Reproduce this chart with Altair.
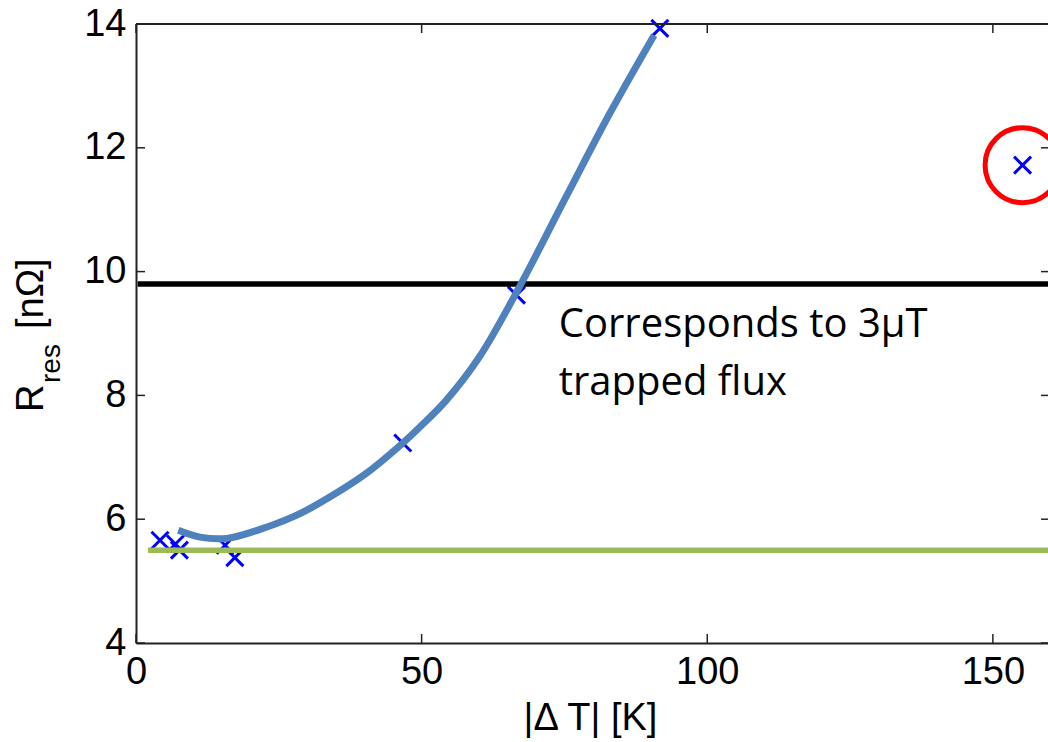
import altair as alt
import pandas as pd

# ---- data ----
meas_x = [4.2, 6.9, 7.6, 15.6, 17.3, 46.7, 66.6, 91.7]
meas_y = [5.66, 5.60, 5.50, 5.58, 5.38, 7.23, 9.62, 13.93]
outlier_x = [155.2]
outlier_y = [11.72]
fit_x = [7.4, 11.2, 15.9, 22.8, 28.7, 34.5, 40.3, 46.2, 49.7, 54.3, 60.1, 67.1, 75.3, 82.9, 90.7]
fit_y = [5.82, 5.71, 5.69, 5.87, 6.09, 6.39, 6.74, 7.19, 7.49, 7.92, 8.62, 9.75, 11.21, 12.55, 13.82]
flux_level = [9.8]
flux_span = [0.3, 159.7]
base_level = [5.5]
base_span = [2.1, 159.7]
x_ticks = [0, 50, 100, 150]
y_ticks = [4, 6, 8, 10, 12, 14]
note_lines = ["Corresponds to 3µT", "trapped flux"]
note_x = [74.0, 74.0]
note_y = [8.94, 8.00]

W, H = 912, 619
XS = alt.Scale(domain=[0, 159.65], nice=False, zero=False)
YS = alt.Scale(domain=[4, 14], nice=False, zero=False)
FONT = "Liberation Sans"
FRAME = "#222222"

x_axis = alt.Axis(values=x_ticks, format="d", tickSize=0, labelFontSize=38, labelFont=FONT,
                  labelColor="black", labelPadding=10, labelFlush=False, grid=False,
                  domain=True, domainColor=FRAME, domainWidth=2,
                  title="|Δ T| [K]", titleFont=FONT, titleFontSize=38, titleFontWeight="normal",
                  titleColor="black", titleX=454, titleY=86, titleBaseline="alphabetic",
                  titleAlign="center")
y_axis = alt.Axis(values=y_ticks, format="d", tickSize=0, labelFontSize=38, labelFont=FONT,
                  labelColor="black", labelPadding=10, labelFlush=False, grid=False,
                  domain=True, domainColor=FRAME, domainWidth=2, title=None)

meas = pd.DataFrame({"x": meas_x, "y": meas_y})
outl = pd.DataFrame({"x": outlier_x, "y": outlier_y})
fit = pd.DataFrame({"x": fit_x, "y": fit_y})
flux = pd.DataFrame({"x": [flux_span[0]], "x2": [flux_span[1]], "y": flux_level})
base = pd.DataFrame({"x": [base_span[0]], "x2": [base_span[1]], "y": base_level})
notes = pd.DataFrame({"x": note_x, "y": note_y, "t": note_lines})
xt = pd.DataFrame({"t": x_ticks})
yt = pd.DataFrame({"t": y_ticks})

XSHAPE = "M-1,-1L1,1M-1,1L1,-1"

pts = alt.Chart(meas).mark_point(shape=XSHAPE, size=289, filled=False, color="#0000FF",
                                 strokeWidth=3, opacity=1).encode(
    x=alt.X("x:Q", scale=XS, axis=x_axis), y=alt.Y("y:Q", scale=YS, axis=y_axis))
pts_out = alt.Chart(outl).mark_point(shape=XSHAPE, size=289, filled=False, color="#0000FF",
                                     strokeWidth=3, opacity=1).encode(
    x=alt.X("x:Q", scale=XS), y=alt.Y("y:Q", scale=YS))
circ = alt.Chart(outl).mark_point(shape="circle", size=5625, filled=False, color="#FF0000",
                                  strokeWidth=5, opacity=1).encode(
    x=alt.X("x:Q", scale=XS), y=alt.Y("y:Q", scale=YS))
green = alt.Chart(base).mark_rule(color="#9BBB59", strokeWidth=5.5).encode(
    x=alt.X("x:Q", scale=XS), x2="x2:Q", y=alt.Y("y:Q", scale=YS))
black = alt.Chart(flux).mark_rule(color="#000000", strokeWidth=5.5).encode(
    x=alt.X("x:Q", scale=XS), x2="x2:Q", y=alt.Y("y:Q", scale=YS))
curve = alt.Chart(fit).mark_line(color="#4F81BD", strokeWidth=7, interpolate="catmull-rom").encode(
    x=alt.X("x:Q", scale=XS), y=alt.Y("y:Q", scale=YS))
note = alt.Chart(notes).mark_text(align="left", baseline="alphabetic", font="Open Sans",
                                  fontSize=40, color="black").encode(
    x=alt.X("x:Q", scale=XS), y=alt.Y("y:Q", scale=YS), text="t:N")

# inward ticks on all four sides
tick_style = dict(color=FRAME, strokeWidth=1.5)
xb = alt.Chart(xt).mark_rule(**tick_style).encode(x=alt.X("t:Q", scale=XS), y=alt.value(H), y2=alt.value(H - 9))
xtp = alt.Chart(xt).mark_rule(**tick_style).encode(x=alt.X("t:Q", scale=XS), y=alt.value(0), y2=alt.value(9))
yl = alt.Chart(yt).mark_rule(**tick_style).encode(y=alt.Y("t:Q", scale=YS), x=alt.value(0), x2=alt.value(9))
yr = alt.Chart(yt).mark_rule(**tick_style).encode(y=alt.Y("t:Q", scale=YS), x=alt.value(W - 7), x2=alt.value(W + 2))
top = alt.Chart(pd.DataFrame({"a": [0]})).mark_rule(color=FRAME, strokeWidth=2).encode(
    x=alt.value(0), x2=alt.value(W + 2), y=alt.value(0))

# y title with subscript
yt_R = alt.Chart(pd.DataFrame({"t": ["R"]})).mark_text(angle=270, align="left", baseline="alphabetic",
    font=FONT, fontSize=38, color="black").encode(text="t:N", x=alt.value(-93), y=alt.value(388))
yt_res = alt.Chart(pd.DataFrame({"t": ["res"]})).mark_text(angle=270, align="left", baseline="alphabetic",
    font=FONT, fontSize=28, color="black").encode(text="t:N", x=alt.value(-76), y=alt.value(359))
yt_unit = alt.Chart(pd.DataFrame({"t": ["[nΩ]"]})).mark_text(angle=270, align="left", baseline="alphabetic",
    font=FONT, fontSize=38, color="black").encode(text="t:N", x=alt.value(-93), y=alt.value(305))

chart = alt.layer(pts, pts_out, green, black, curve, circ, note, xb, xtp, yl, yr, top,
                  yt_R, yt_res, yt_unit).properties(
    width=W, height=H, autosize="none",
    padding={"left": 136, "top": 24, "right": 0, "bottom": 99},
).configure_view(stroke=None).configure(background="white")

chart.save("out.html", embed_options={"renderer": "svg", "actions": False})
